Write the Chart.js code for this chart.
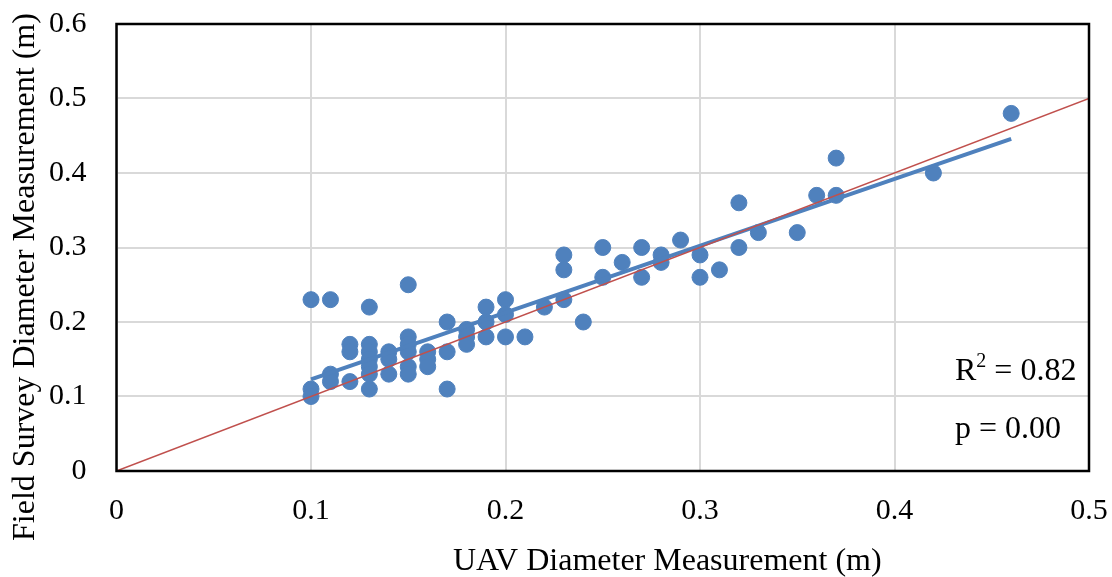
<!DOCTYPE html>
<html>
<head>
<meta charset="utf-8">
<script src="https://cdn.jsdelivr.net/npm/chart.js@4"></script>
<style>
  html, body { margin: 0; padding: 0; background: #fff; }
  #wrap { width: 1112px; height: 577px; }
</style>
</head>
<body>
<div id="wrap"><canvas id="Diameter"></canvas></div>
<script>
// UAV vs field survey diameters (m) -------------------------------------------
const uav = [
  0.10, 0.10, 0.10,
  0.11, 0.11, 0.11,
  0.12, 0.12, 0.12,
  0.13, 0.13, 0.13, 0.13, 0.13, 0.13, 0.13,
  0.14, 0.14, 0.14,
  0.15, 0.15, 0.15, 0.15, 0.15, 0.15,
  0.16, 0.16, 0.16,
  0.17, 0.17, 0.17,
  0.18, 0.18, 0.18,
  0.19, 0.19, 0.19,
  0.20, 0.20, 0.20,
  0.21, 0.22,
  0.23, 0.23, 0.23,
  0.24,
  0.25, 0.25,
  0.26,
  0.27, 0.27,
  0.28, 0.28,
  0.29,
  0.30, 0.30,
  0.31,
  0.32, 0.32,
  0.33, 0.35, 0.36,
  0.37, 0.37,
  0.42, 0.46,
];
const field = [
  0.23, 0.11, 0.10,
  0.23, 0.13, 0.12,
  0.17, 0.16, 0.12,
  0.22, 0.17, 0.16, 0.15, 0.14, 0.13, 0.11,
  0.16, 0.15, 0.13,
  0.25, 0.18, 0.17, 0.16, 0.14, 0.13,
  0.16, 0.15, 0.14,
  0.20, 0.16, 0.11,
  0.19, 0.18, 0.17,
  0.22, 0.20, 0.18,
  0.23, 0.21, 0.18,
  0.18, 0.22,
  0.29, 0.27, 0.23,
  0.20,
  0.30, 0.26,
  0.28,
  0.30, 0.26,
  0.29, 0.28,
  0.31,
  0.29, 0.26,
  0.27,
  0.36, 0.30,
  0.32, 0.32, 0.37,
  0.42, 0.37,
  0.40, 0.48,
];
const xTicks = [0, 0.1, 0.2, 0.3, 0.4, 0.5];
const yTicks = [0, 0.1, 0.2, 0.3, 0.4, 0.5, 0.6];
const oneToOne = [0, 0.5];
const xTitle = "UAV Diameter Measurement (m)";
const yTitle = "Field Survey Diameter Measurement (m)";
const r2Text = "0.82";
const pText = "0.00";

const blue = "#4F81BD";
const red = "#C0504D";
const serif = "'Liberation Serif', 'Times New Roman', serif";

const points = uav.map((u, i) => ({ x: u, y: field[i] }));

// least squares trendline, like Excel's
const n = uav.length;
const mx = uav.reduce((a, b) => a + b, 0) / n;
const my = field.reduce((a, b) => a + b, 0) / n;
let sxy = 0, sxx = 0;
for (let i = 0; i < n; i++) {
  sxy += (uav[i] - mx) * (field[i] - my);
  sxx += (uav[i] - mx) * (uav[i] - mx);
}
const slope = sxy / sxx;
const icept = my - slope * mx;
const xMin = Math.min(...uav);
const xMax = Math.max(...uav);
const trend = [
  { x: xMin, y: icept + slope * xMin },
  { x: xMax, y: icept + slope * xMax },
];

const fmt = (v) => (v === 0 ? "0" : v.toFixed(1));

// frame, axis titles + stats text (Excel puts titles off-centre)
const extras = {
  id: "extras",
  afterDraw(chart) {
    const { ctx, chartArea: a } = chart;
    ctx.save();
    ctx.strokeStyle = "#000";
    ctx.lineWidth = 2.5;
    ctx.strokeRect(a.left, a.top, a.right - a.left, a.bottom - a.top);

    ctx.fillStyle = "#000";
    ctx.font = "32px " + serif;
    ctx.textAlign = "left";
    ctx.textBaseline = "alphabetic";
    ctx.fillText(xTitle, 453, 570);

    ctx.save();
    ctx.translate(34, 277);
    ctx.rotate(-Math.PI / 2);
    ctx.textAlign = "center";
    ctx.fillText(yTitle, 0, 0);
    ctx.restore();

    let x = 955;
    ctx.font = "32px " + serif;
    ctx.fillText("R", x, 380);
    x += ctx.measureText("R").width;
    ctx.font = "20px " + serif;
    ctx.fillText("2", x, 367);
    x += ctx.measureText("2").width;
    ctx.font = "32px " + serif;
    ctx.fillText(" = " + r2Text, x, 380);
    ctx.fillText("p = " + pText, 955, 438);
    ctx.restore();
  },
};

new Chart(document.getElementById("Diameter"), {
  type: "scatter",
  data: {
    datasets: [
      {
        type: "line",
        label: "1:1",
        data: oneToOne.map((v) => ({ x: v, y: v })),
        borderColor: red,
        borderWidth: 1.5,
        pointRadius: 0,
        fill: false,
      },
      {
        type: "line",
        label: "Trend",
        data: trend,
        borderColor: blue,
        borderWidth: 4,
        pointRadius: 0,
        fill: false,
      },
      {
        label: "Trees",
        data: points,
        backgroundColor: blue,
        borderColor: blue,
        pointRadius: 8,
        pointHoverRadius: 8,
      },
    ],
  },
  options: {
    responsive: true,
    maintainAspectRatio: false,
    animation: false,
    layout: { padding: { top: 24, right: 23, left: 49, bottom: 48 } },
    scales: {
      x: {
        type: "linear",
        min: 0,
        max: 0.5,
        afterBuildTicks: (s) => { s.ticks = xTicks.map((v) => ({ value: v })); },
        ticks: {
          callback: fmt,
          color: "#000",
          font: { family: serif, size: 30 },
          padding: 0,
        },
        // invisible tick marks give the label gap without widening the overhang
        grid: { color: "#D9D9D9", lineWidth: 2, drawTicks: true, tickLength: 22, tickColor: "rgba(0,0,0,0)" },
        border: { display: false },
      },
      y: {
        min: 0,
        max: 0.6,
        afterBuildTicks: (s) => { s.ticks = yTicks.map((v) => ({ value: v })); },
        ticks: {
          callback: fmt,
          color: "#000",
          font: { family: serif, size: 30 },
          padding: 0,
        },
        grid: { color: "#D9D9D9", lineWidth: 2, drawTicks: true, tickLength: 30, tickColor: "rgba(0,0,0,0)" },
        border: { display: false },
      },
    },
    plugins: {
      legend: { display: false },
      tooltip: { enabled: false },
    },
  },
  plugins: [extras],
});
</script>
</body>
</html>
